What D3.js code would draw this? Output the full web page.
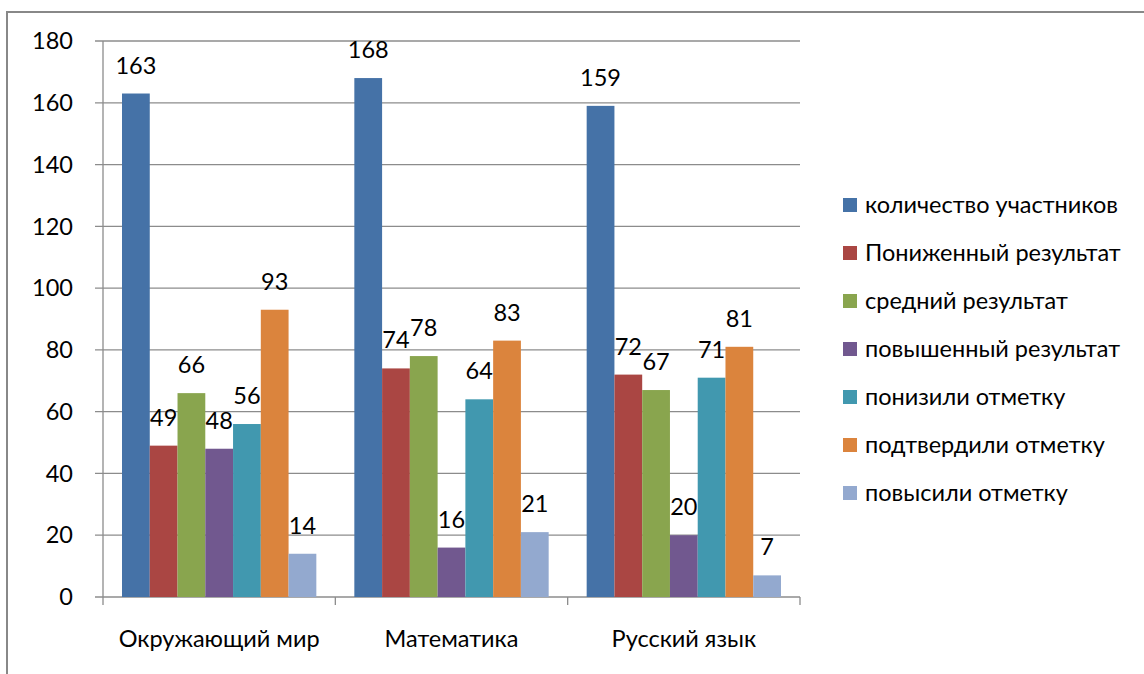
<!DOCTYPE html>
<html>
<head>
<meta charset="utf-8">
<script src="https://cdn.jsdelivr.net/npm/d3@7/dist/d3.min.js"></script>
<style>
  body { margin: 0; background: #fff; }
  text { font-family: Lato, "Open Sans", sans-serif; fill: #000; }
</style>
</head>
<body>
<div id="chart"></div>
<script>
var categories = ["Окружающий мир", "Математика", "Русский язык"];
var seriesNames = ["количество участников", "Пониженный результат", "средний результат",
  "повышенный результат", "понизили отметку", "подтвердили отметку", "повысили отметку"];
var seriesColors = ["#4572A7", "#AA4643", "#89A54E", "#71588F", "#4198AF", "#DB843D", "#93A9CF"];
var values = [
  [163, 49, 66, 48, 56, 93, 14],
  [168, 74, 78, 16, 64, 83, 21],
  [159, 72, 67, 20, 71, 81, 7]
];
var yTicks = [0, 20, 40, 60, 80, 100, 120, 140, 160, 180];

var W = 1144, H = 674;
var m = {left: 103, top: 41, right: 344, bottom: 77};
var w = W - m.left - m.right, h = H - m.top - m.bottom;
var fs = "23.5px";

var svg = d3.select("#chart").append("svg").attr("width", W).attr("height", H);

svg.append("rect").attr("x", 7).attr("y", 12).attr("width", W + 10).attr("height", H + 10)
  .attr("fill", "none").attr("stroke", "#888").attr("stroke-width", 2);

var g = svg.append("g").attr("transform", "translate(" + m.left + "," + m.top + ")");

var x0 = d3.scaleBand().domain(categories).range([0, w]).paddingInner(0).paddingOuter(0);
var x1 = d3.scaleBand().domain(d3.range(seriesNames.length)).range([19, x0.bandwidth() - 19]).padding(0);
var y = d3.scaleLinear().domain([0, 180]).range([h, 0]);

// gridlines
g.selectAll(".grid").data(yTicks).enter().append("line")
  .attr("x1", -8).attr("x2", w)
  .attr("y1", function(d) { return y(d); }).attr("y2", function(d) { return y(d); })
  .attr("stroke", "#8c8c8c").attr("stroke-width", 1.3);

// y axis line
g.append("line").attr("x1", 0).attr("x2", 0).attr("y1", 0).attr("y2", h)
  .attr("stroke", "#8c8c8c").attr("stroke-width", 1.3);

g.selectAll(".ylab").data(yTicks).enter().append("text")
  .attr("x", -30).attr("y", function(d) { return y(d); }).attr("dy", "0.35em")
  .attr("text-anchor", "end").style("font-size", fs).text(function(d) { return d; });

// x ticks
var xt = [0].concat(categories.map(function(c) { return x0(c) + x0.bandwidth(); }));
g.selectAll(".xt").data(xt).enter().append("line")
  .attr("x1", function(d) { return d; }).attr("x2", function(d) { return d; })
  .attr("y1", h).attr("y2", h + 8).attr("stroke", "#8c8c8c").attr("stroke-width", 1.3);

g.selectAll(".xlab").data(categories).enter().append("text")
  .attr("x", function(d) { return x0(d) + x0.bandwidth() / 2; })
  .attr("y", h + 50).attr("text-anchor", "middle").style("font-size", fs)
  .text(function(d) { return d; });

var groups = g.selectAll(".cat").data(values).enter().append("g")
  .attr("transform", function(d, i) { return "translate(" + x0(categories[i]) + ",0)"; });

groups.selectAll("rect").data(function(d) { return d; }).enter().append("rect")
  .attr("x", function(d, j) { return x1(j); })
  .attr("width", x1.bandwidth())
  .attr("y", function(d) { return y(d); })
  .attr("height", function(d) { return h - y(d); })
  .attr("fill", function(d, j) { return seriesColors[j]; });

groups.selectAll(".lbl").data(function(d) { return d; }).enter().append("text")
  .attr("x", function(d, j) { return x1(j) + x1.bandwidth() / 2; })
  .attr("y", function(d) { return y(d) - 20; })
  .attr("text-anchor", "middle").style("font-size", fs)
  .text(function(d) { return d; });

// legend
var lg = svg.append("g").attr("transform", "translate(843,205)");
var items = lg.selectAll("g").data(seriesNames).enter().append("g")
  .attr("transform", function(d, i) { return "translate(0," + i * 48 + ")"; });
items.append("rect").attr("x", 0).attr("y", -7).attr("width", 14).attr("height", 14)
  .attr("fill", function(d, i) { return seriesColors[i]; });
items.append("text").attr("x", 22).attr("y", 0).attr("dy", "0.35em")
  .style("font-size", fs).text(function(d) { return d; });
</script>
</body>
</html>
